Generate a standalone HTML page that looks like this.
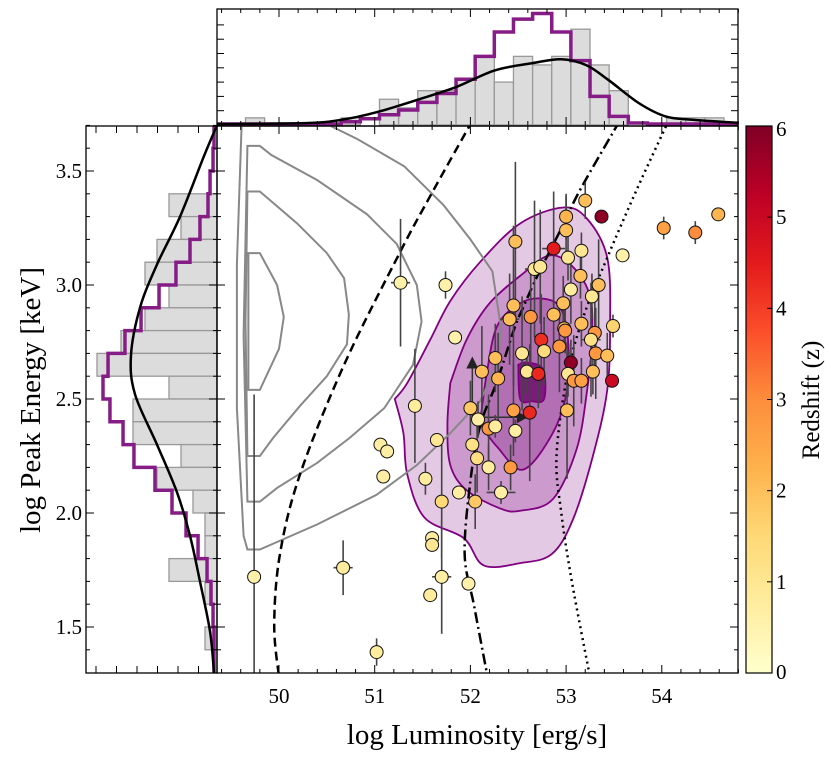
<!DOCTYPE html>
<html><head><meta charset="utf-8"><style>
body{margin:0;background:#fff;}
svg{display:block;font-family:"Liberation Serif",serif;}
</style></head><body>
<svg id="chart" width="831" height="759" viewBox="0 0 831 759" xmlns="http://www.w3.org/2000/svg">
<defs>
<clipPath id="mainClip"><rect x="217" y="126" width="521" height="547"/></clipPath>
<clipPath id="topClip"><rect x="217" y="9" width="521" height="117"/></clipPath>
<clipPath id="leftClip"><rect x="86" y="126" width="131" height="547"/></clipPath>
<linearGradient id="cbGrad" x1="0" y1="1" x2="0" y2="0">
<stop offset="0" stop-color="#ffffcc"/><stop offset="0.125" stop-color="#ffeda0"/><stop offset="0.25" stop-color="#fed976"/><stop offset="0.375" stop-color="#feb24c"/><stop offset="0.5" stop-color="#fd8d3c"/><stop offset="0.625" stop-color="#fc4e2a"/><stop offset="0.75" stop-color="#e31a1c"/><stop offset="0.875" stop-color="#bd0026"/><stop offset="1" stop-color="#800026"/>
</linearGradient>
</defs>
<g id="topG"></g>
<g id="leftG"></g>
<g id="mainG"></g>
<g id="cbG"></g>
<text x="477" y="744" font-size="29" text-anchor="middle">log Luminosity [erg/s]</text>
<text x="0" y="0" font-size="29" text-anchor="middle" transform="translate(40,400) rotate(-90)">log Peak Energy [keV]</text>
<text x="0" y="0" font-size="25" text-anchor="middle" transform="translate(819,400) rotate(-90)">Redshift (z)</text>
</svg>
<script>
// ---- data ----
const ptL = [51.27,51.74,51.84,51.42,51.06,51.13,51.09,51.65,51.53,51.70,51.88,49.74,50.67,51.60,51.60,51.70,51.58,51.98,51.02,
52.02,52.07,52.19,52.32,52.05,52.00,52.08,52.19,52.26,52.12,52.26,52.29,52.42,52.47,52.45,52.62,52.59,52.71,52.54,52.74,52.77,52.93,52.98,52.87,52.63,52.41,52.45,52.97,53.05,53.27,53.34,53.15,52.67,52.73,53.02,53.16,52.87,52.47,53.00,53.00,53.20,53.37,54.02,54.35,54.59,53.59,53.49,53.16,53.30,53.26,52.99,53.05,53.31,53.43,53.02,53.08,53.16,53.28,53.48,53.01];
const ptE = [3.01,3.00,2.77,2.47,2.30,2.27,2.16,2.32,2.15,2.05,2.09,1.72,1.76,1.89,1.86,1.72,1.64,1.69,1.39,
2.30,2.24,2.20,2.09,2.05,2.46,2.41,2.37,2.38,2.62,2.68,2.59,2.20,2.36,2.45,2.44,2.62,2.61,2.70,2.76,2.71,2.73,2.81,2.87,2.86,2.85,2.91,2.92,2.98,2.95,3.00,3.04,3.07,3.08,3.12,3.15,3.16,3.19,3.24,3.30,3.37,3.30,3.25,3.23,3.31,3.13,2.82,2.83,2.79,2.76,2.80,2.66,2.70,2.69,2.61,2.58,2.58,2.62,2.58,2.45];
const ptZ = [0.6,0.6,0.6,0.8,0.7,0.7,0.7,1.0,0.8,1.5,0.7,0.6,0.8,0.8,1.0,0.7,0.8,0.6,0.8,
1.2,1.3,0.8,0.7,1.8,1.8,0.7,2.8,0.8,2.0,2.0,2.2,2.8,0.7,2.6,4.3,1.0,4.3,1.0,4.2,1.4,2.8,2.0,2.0,2.8,2.0,2.0,2.0,0.8,1.0,2.0,2.0,1.0,1.0,1.0,1.0,4.5,2.0,2.0,2.2,2.0,5.8,2.6,3.0,2.2,0.6,1.6,2.0,2.8,1.2,2.8,5.8,2.8,2.0,1.0,2.8,2.6,2.0,5.0,2.0];
const ptYerr = [0.28,0.06,0,0.25,0,0,0,0,0.07,0.25,0,0.8,0.12,0,0,0.25,0,0,0.06,
0,0.15,0.1,0.05,0.12,0.12,0.08,0.15,0.05,0.2,0.15,0.2,0.1,0.05,0.2,0.3,0.1,0.15,0.25,0.2,0.15,0.2,0.1,0.15,0.2,0.2,0.35,0.12,0.15,0.1,0.2,0.1,0.3,0.25,0.1,0.08,0.25,0.35,0.15,0.1,0.08,0,0.05,0.05,0,0,0.05,0.1,0.2,0.25,0.1,0.1,0.2,0.1,0.1,0.2,0.1,0.1,0,0.3];
const ptXerr = [0.1,0,0,0,0,0,0,0,0,0,0,0,0.1,0,0,0.1,0,0,0,
0,0,0,0.15,0,0,0,0,0,0,0,0,0,0,0,0,0,0,0,0,0,0,0,0,0,0.1,0,0,0,0,0,0,0.1,0,0,0,0.12,0,0,0,0,0,0,0.05,0,0,0,0,0,0.1,0,0,0,0,0,0,0,0,0,0];

const contourGray = [
 [[49.61,3.71],[49.56,3.09],[49.56,2.46],[49.63,1.90],[49.67,1.84],[49.80,1.84],[50.40,1.95],[51.02,2.08],[51.44,2.21],[51.79,2.35],[52.10,2.49],[52.28,2.65],[52.32,2.81],[52.23,3.06],[52.00,3.20],[51.72,3.35],[51.31,3.52],[50.82,3.64],[50.43,3.72]],
 [[49.67,3.61],[49.80,3.61],[49.92,3.57],[50.40,3.46],[50.92,3.31],[51.23,3.18],[51.44,3.00],[51.49,2.84],[51.40,2.65],[51.10,2.46],[50.74,2.33],[50.40,2.22],[49.98,2.11],[49.80,2.05],[49.67,2.05],[49.63,2.78]],
 [[49.67,3.41],[49.80,3.41],[50.19,3.27],[50.50,3.14],[50.68,3.03],[50.73,2.87],[50.71,2.74],[50.50,2.60],[50.22,2.47],[49.94,2.33],[49.80,2.25],[49.67,2.25],[49.65,2.84]],
 [[49.68,3.14],[49.80,3.14],[49.98,3.00],[50.05,2.86],[50.00,2.72],[49.80,2.54],[49.68,2.54]]
];
const contourPurple = [
 [[51.21,2.50],[51.30,2.35],[51.34,2.17],[51.52,1.98],[51.93,1.89],[52.14,1.77],[52.52,1.78],[52.85,1.82],[53.07,1.97],[53.28,2.25],[53.43,2.54],[53.46,2.84],[53.43,3.12],[53.22,3.29],[52.97,3.34],[52.52,3.27],[52.10,3.10],[51.79,2.93],[51.58,2.76],[51.34,2.57]],
 [[51.79,2.57],[51.76,2.39],[51.79,2.21],[51.96,2.10],[52.31,2.02],[52.52,2.01],[52.86,2.06],[53.11,2.28],[53.22,2.54],[53.27,2.76],[53.25,2.95],[53.07,3.08],[52.83,3.13],[52.55,3.05],[52.20,2.92],[51.96,2.76]],
 [[52.10,2.39],[52.17,2.61],[52.28,2.82],[52.52,2.92],[52.76,2.94],[52.94,2.90],[53.02,2.76],[53.01,2.54],[52.86,2.35],[52.55,2.19],[52.28,2.29]],
 [[52.50,2.65],[52.59,2.66],[52.76,2.63],[52.77,2.50],[52.64,2.49],[52.52,2.50]]
];
const purpleFills = ['#e4c9e4','#cc9acc','#b36fb3','#7d1a7d'];

const lineDashed = [[52.02,3.72],[51.58,3.39],[51.26,3.14],[50.68,2.65],[50.22,2.17],[50.01,1.82],[49.95,1.51],[50.00,1.28]];
const lineDashDot = [[53.56,3.72],[53.15,3.42],[52.94,3.24],[52.70,3.04],[52.55,2.90],[52.46,2.81],[52.28,2.58],[52.10,2.38],[52.00,2.14],[51.94,1.82],[52.04,1.59],[52.18,1.28]];
const lineDotted = [[54.07,3.72],[53.74,3.42],[53.43,3.12],[53.18,2.86],[53.01,2.60],[52.90,2.25],[52.95,2.00],[53.06,1.70],[53.25,1.28]];

const topGray = [0.5,0,0,0,0,0.5,0,1.8,1.2,2.4,2.4,3.2,4.8,3.0,4.8,4.2,4.8,6.7,4.2,2.4,0,0,0.5,0.5,0.5,0];
const topPurple = [0.07,0.07,0.07,0.07,0.07,0.23,0.44,0.72,1.05,1.58,2.2,3.2,4.8,6.5,7.4,7.8,6.5,4.5,2.0,0.6,0.14,0.07,0.07,0.07,0.07,0.07];
const topKdeL = [49.36,50.31,50.70,51.05,51.45,51.85,52.25,52.65,52.95,53.21,53.44,53.76,54.04,54.32,54.83];
const topKdeV = [0.07,0.14,0.42,0.95,1.77,2.65,3.81,4.33,4.6,4.19,3.16,1.53,0.6,0.37,0.14];

const leftGray = [4,3,5,6,4,6,8,10,4,7,7,3,5,2,1,1,4,1,0,1];
const leftPurple = [0.25,0.33,0.58,0.75,1.42,2.25,3.42,4.83,6.33,7.67,9.08,9.5,8.92,7.83,6.92,5.17,3.75,2.58,1.58,0.83,0.5,0.33,0.25,0.25];
const leftKdeE = [3.70,3.566,3.30,3.09,2.90,2.69,2.52,2.30,2.09,1.90,1.70,1.48,1.30];
const leftKdeV = [0,1.08,3.08,5,6.42,7.17,6.83,5,3.33,2.25,1.42,0.58,0.25];

const xTicks = [50,51,52,53,54];
const yTicks = [1.5,2.0,2.5,3.0,3.5];
const cbTicks = [0,1,2,3,4,5,6];

// ---- scales ----
const sx = L => 279 + (L-50)*95.7;
const sy = E => 171 - (E-3.5)*228;
const topY = v => 125 - v*14.3;
const leftX = c => 217 - c*12;
const cbY = z => 673 - z*(547/6);
const NS='http://www.w3.org/2000/svg';
function mk(tag, attrs, parent){const e=document.createElementNS(NS,tag);for(const k in attrs)e.setAttribute(k,attrs[k]);parent.appendChild(e);return e;}
function smooth(pts){let d='M'+pts[0][0]+','+pts[0][1];for(let i=0;i<pts.length-1;i++){const p0=pts[Math.max(i-1,0)],p1=pts[i],p2=pts[i+1],p3=pts[Math.min(i+2,pts.length-1)];const c1=[p1[0]+(p2[0]-p0[0])/6,p1[1]+(p2[1]-p0[1])/6],c2=[p2[0]-(p3[0]-p1[0])/6,p2[1]-(p3[1]-p1[1])/6];d+=' C'+c1[0]+','+c1[1]+' '+c2[0]+','+c2[1]+' '+p2[0]+','+p2[1];}return d;}
const stops=[[0,[255,255,204]],[0.75,[255,237,160]],[1.5,[254,217,118]],[2.25,[254,178,76]],[3,[253,141,60]],[3.75,[252,78,42]],[4.5,[227,26,28]],[5.25,[189,0,38]],[6,[128,0,38]]];
function zc(z){for(let i=0;i<stops.length-1;i++){if(z<=stops[i+1][0]){const t=(z-stops[i][0])/(stops[i+1][0]-stops[i][0]);const a=stops[i][1],b=stops[i+1][1];return 'rgb('+a.map((v,j)=>Math.round(v+(b[j]-v)*t)).join(',')+')';}}return 'rgb(128,0,38)';}

// ---- top histogram ----
const topG=document.getElementById('topG');
const tc=mk('g',{'clip-path':'url(#topClip)'},topG);
const bw=0.2, b0=49.65;
topGray.forEach((v,k)=>{ if(v<=0) return;
 const r=mk('rect',{x:sx(b0+k*bw),y:topY(v),width:sx(b0+(k+1)*bw)-sx(b0+k*bw),height:125-topY(v),fill:'#dcdcdc',stroke:'#999','stroke-width':1.3},tc);
 
 
});
let d='M'+sx(49.3)+','+topY(topPurple[0]);
topPurple.forEach((v,k)=>{d+=' L'+sx(b0+k*bw)+','+topY(v)+' L'+sx(b0+(k+1)*bw)+','+topY(v);});
d+=' L'+sx(55)+','+topY(topPurple[topPurple.length-1]);
const tp=mk('path',{d:d,fill:'none',stroke:'#861d86','stroke-width':3.5},tc);


const tk=mk('path',{d:smooth(topKdeL.map((L,i)=>[sx(L),topY(topKdeV[i])])),fill:'none',stroke:'#000','stroke-width':2.5},tc);


mk('rect',{x:217,y:9,width:521,height:117,fill:'none',stroke:'#000','stroke-width':1.3},topG);
for(let L=49.4;L<54.85;L+=0.2){const X=sx(Math.round(L*10)/10);const maj=Math.abs(L-Math.round(L))<0.01;mk('line',{x1:X,x2:X,y1:9,y2:9+(maj?8:4),stroke:'#000','stroke-width':1},topG);mk('line',{x1:X,x2:X,y1:125,y2:125-(maj?8:4),stroke:'#000','stroke-width':1},topG);}
for(let v=1;v<8;v++){const Y=topY(v);mk('line',{x1:217,x2:224,y1:Y,y2:Y,stroke:'#000'},topG);mk('line',{x1:738,x2:731,y1:Y,y2:Y,stroke:'#000'},topG);}

// ---- left histogram ----
const leftG=document.getElementById('leftG');
const lc=mk('g',{'clip-path':'url(#leftClip)'},leftG);
leftGray.forEach((c,k)=>{ if(c<=0) return;
 const eTop=3.4-k*0.1;
 const r=mk('rect',{x:leftX(c),y:sy(eTop),width:217-leftX(c),height:sy(eTop-0.1)-sy(eTop),fill:'#dcdcdc',stroke:'#999','stroke-width':1.3},lc);
 
 
});
let ld='';
leftPurple.forEach((c,k)=>{const e1=3.7-k*0.1;ld+=(k?' L':'M')+leftX(c)+','+sy(e1+(k?0:0.05))+' L'+leftX(c)+','+sy(e1-0.1-(k==leftPurple.length-1?0.05:0));});
const lp=mk('path',{d:ld,fill:'none',stroke:'#861d86','stroke-width':3.5},lc);


const lk=mk('path',{d:smooth(leftKdeE.map((E,i)=>[leftX(leftKdeV[i]),sy(E)])),fill:'none',stroke:'#000','stroke-width':2.5},lc);


mk('rect',{x:86,y:126,width:131,height:547,fill:'none',stroke:'#000','stroke-width':1.3},leftG);
for(let X=96;X<217;X+=20.5){mk('line',{x1:X,x2:X,y1:126,y2:133,stroke:'#000'},leftG);mk('line',{x1:X,x2:X,y1:673,y2:666,stroke:'#000'},leftG);}
for(let i=14;i<=37;i++){const E=i/10;const Y=sy(E);const maj=(i%5==0);mk('line',{x1:86,x2:86+(maj?8:4),y1:Y,y2:Y,stroke:'#000'},leftG);mk('line',{x1:217,x2:217-(maj?8:4),y1:Y,y2:Y,stroke:'#000'},leftG);}
yTicks.forEach(E=>{const t=mk('text',{x:82,y:sy(E)+7,'font-size':21,'text-anchor':'end'},leftG);t.textContent=E.toFixed(1);
 
 });

// ---- main plot ----
const mainG=document.getElementById('mainG');
const mc=mk('g',{'clip-path':'url(#mainClip)'},mainG);
contourPurple.forEach((poly,i)=>{
 const p=mk('path',{d:smooth(poly.concat([poly[0]]).map(q=>[sx(q[0]),sy(q[1])]))+'Z',fill:purpleFills[i],stroke:'#800080','stroke-width':1.8},mc);
 
 
});
contourGray.forEach(poly=>{
 const p=mk('polygon',{points:poly.map(q=>sx(q[0])+','+sy(q[1])).join(' '),fill:'none',stroke:'#888','stroke-width':2},mc);
 
 
});
[[lineDashed,'9,5','dashed-relation-line'],[lineDashDot,'11,4,2,4','dashdot-relation-line'],[lineDotted,'2,4','dotted-relation-line']].forEach(a=>{
 const p=mk('path',{d:smooth(a[0].map(q=>[sx(q[0]),sy(q[1])])),fill:'none',stroke:'#000','stroke-width':2.5,'stroke-dasharray':a[1]},mc);
 
 
});
// upper-limit marker
const ulx=sx(52.02), uly=sy(2.66);
const ul=mk('g',{},mc);


mk('line',{x1:ulx,x2:ulx,y1:uly,y2:sy(2.42),stroke:'#333','stroke-width':1.5},ul);
mk('polygon',{points:(ulx-6)+','+(uly+6)+' '+(ulx+6)+','+(uly+6)+' '+ulx+','+(uly-6),fill:'#222'},ul);
mk('line',{x1:ulx,x2:sx(52.55),y1:sy(2.42),y2:sy(2.42),stroke:'#333','stroke-width':1.5},ul);
mk('polygon',{points:sx(52.6)+','+sy(2.42)+' '+(sx(52.6)-11)+','+(sy(2.42)-6)+' '+(sx(52.6)-11)+','+(sy(2.42)+6),fill:'#222'},ul);
// error bars then points
const eg=mk('g',{},mc);
ptL.forEach((L,i)=>{
 if(ptYerr[i]>0){const l=mk('line',{x1:sx(L),x2:sx(L),y1:sy(ptE[i]+ptYerr[i]),y2:sy(ptE[i]-ptYerr[i]),stroke:'#444','stroke-width':1.6},eg);
  
  }
 if(ptXerr[i]>0){const l=mk('line',{x1:sx(L-ptXerr[i]),x2:sx(L+ptXerr[i]),y1:sy(ptE[i]),y2:sy(ptE[i]),stroke:'#444','stroke-width':1.6},eg);
  
  }
});
ptL.forEach((L,i)=>{
 const c=mk('circle',{cx:sx(L),cy:sy(ptE[i]),r:6.5,fill:zc(ptZ[i]),stroke:'#111','stroke-width':1},mc);
 
 
});
mk('rect',{x:217,y:126,width:521,height:547,fill:'none',stroke:'#000','stroke-width':1.3},mainG);
for(let i=494;i<=548;i+=2){const L=i/10;const X=sx(L);const maj=(i%10==0);mk('line',{x1:X,x2:X,y1:673,y2:673-(maj?8:4),stroke:'#000'},mainG);mk('line',{x1:X,x2:X,y1:126,y2:126+(maj?8:4),stroke:'#000'},mainG);}
for(let i=14;i<=37;i++){const Y=sy(i/10);const maj=(i%5==0);mk('line',{x1:217,x2:217+(maj?8:4),y1:Y,y2:Y,stroke:'#000'},mainG);mk('line',{x1:738,x2:738-(maj?8:4),y1:Y,y2:Y,stroke:'#000'},mainG);}
xTicks.forEach(L=>{const t=mk('text',{x:sx(L),y:703,'font-size':21,'text-anchor':'middle'},mainG);t.textContent=L;
 
 });

// ---- colorbar ----
const cbG=document.getElementById('cbG');
mk('rect',{x:746,y:126,width:26,height:547,fill:'url(#cbGrad)',stroke:'#000','stroke-width':1.2},cbG);
cbTicks.forEach(z=>{const Y=cbY(z);mk('line',{x1:772,x2:767,y1:Y,y2:Y,stroke:'#000'},cbG);
 const t=mk('text',{x:776,y:Y+(z==6?10:z==0?6:7),'font-size':21},cbG);t.textContent=z;
 
 });
</script>
</body></html>
